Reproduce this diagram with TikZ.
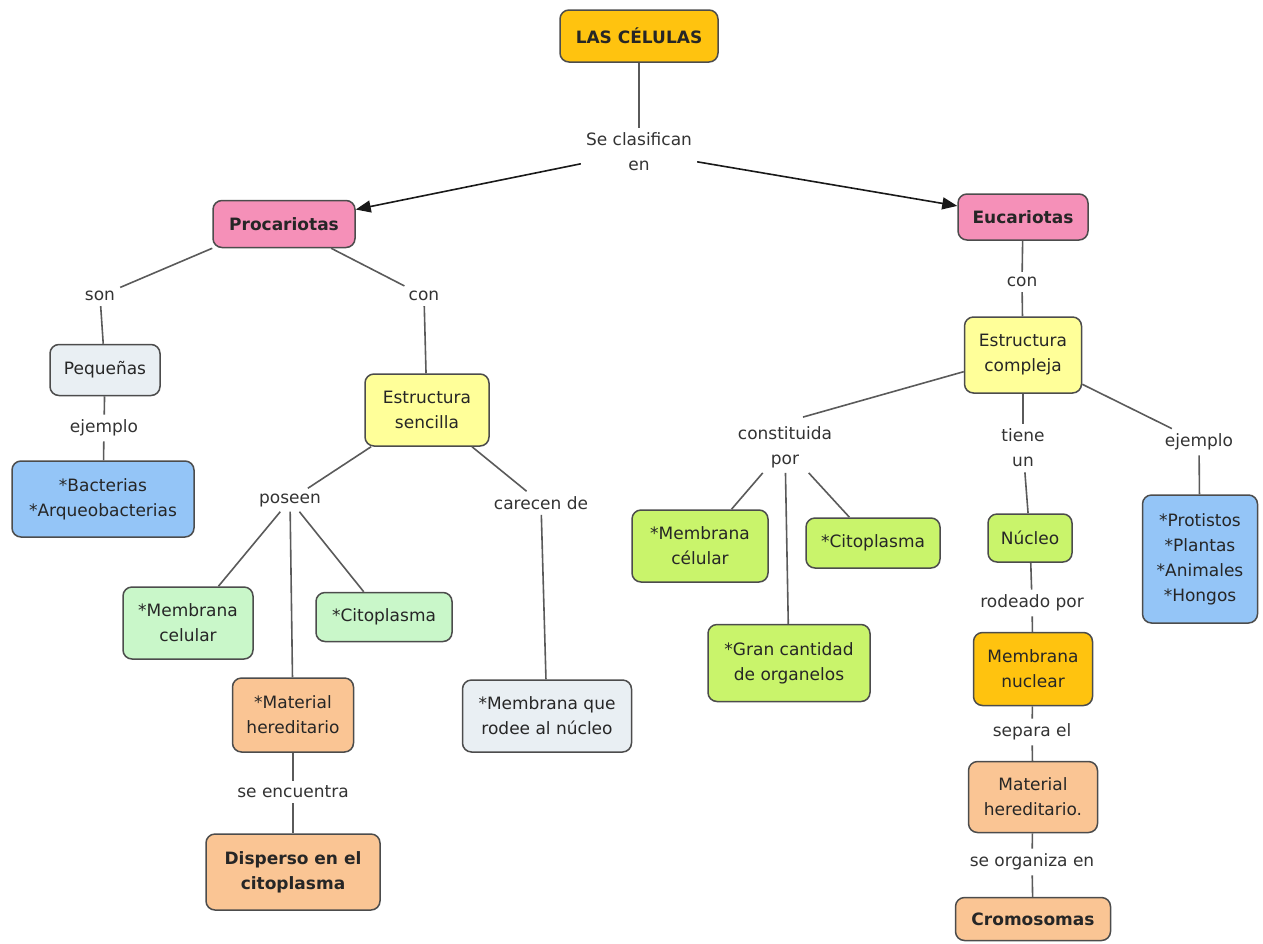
\documentclass[tikz,border=0pt]{standalone}
\usepackage{fontspec}
\setmainfont{DejaVu Sans}
\usetikzlibrary{arrows.meta}
\definecolor{cgold}{HTML}{FFC30F}
\definecolor{cpink}{HTML}{F590B8}
\definecolor{cgrey}{HTML}{E9EFF3}
\definecolor{cblue}{HTML}{94C5F7}
\definecolor{cyel}{HTML}{FFFF99}
\definecolor{cmint}{HTML}{C9F7C9}
\definecolor{clime}{HTML}{C9F46B}
\definecolor{corange}{HTML}{FAC594}
\definecolor{cline}{HTML}{5A5A5A}
\tikzset{
  concept/.style={draw=black!70, line width=1.5pt, rounded corners=9pt, align=center,
    font=\fontsize{17}{25}\selectfont, text=black!85, inner sep=2pt},
  bconcept/.style={concept, font=\fontsize{17}{25}\selectfont\bfseries},
  linklabel/.style={align=center, font=\fontsize{17}{25}\selectfont, text=black!80, inner sep=5pt},
  conn/.style={draw=cline, line width=1.6pt},
  arr/.style={draw=black!90, line width=1.6pt, -{Triangle[length=15pt,width=12pt]}},
}
\begin{document}
\begin{tikzpicture}[x=1pt,y=-1pt]
\useasboundingbox (0,0) rectangle (1263,943);
% concepts
\node[bconcept, fill=cgold, minimum width=158, minimum height=52] (lascel) at (639,36) {LAS CÉLULAS};
\node[bconcept, fill=cpink, minimum width=142, minimum height=47] (proc) at (284,224) {Procariotas};
\node[bconcept, fill=cpink, minimum width=130, minimum height=46] (euca) at (1023,217) {Eucariotas};
\node[concept, fill=cgrey, minimum width=110, minimum height=51] (peq) at (105,370) {Pequeñas};
\node[concept, fill=cblue, minimum width=182, minimum height=76] (bact) at (103,499) {*Bacterias\\*Arqueobacterias};
\node[concept, fill=cyel, minimum width=124, minimum height=72] (esen) at (427,410) {Estructura\\sencilla};
\node[concept, fill=cgrey, minimum width=169, minimum height=72] (memrod) at (547,716) {*Membrana que\\rodee al núcleo};
\node[concept, fill=cmint, minimum width=130, minimum height=72] (memcelL) at (188,623) {*Membrana\\celular};
\node[concept, fill=cmint, minimum width=136, minimum height=49] (citL) at (384,617) {*Citoplasma};
\node[concept, fill=corange, minimum width=121, minimum height=74] (matL) at (293,715) {*Material\\hereditario};
\node[bconcept, fill=corange, minimum width=174, minimum height=76] (disp) at (293,872) {Disperso en el\\citoplasma};
\node[concept, fill=cyel, minimum width=117, minimum height=76] (ecomp) at (1023,355) {Estructura\\compleja};
\node[concept, fill=cblue, minimum width=115, minimum height=128] (prot) at (1200,559) {*Protistos\\*Plantas\\*Animales\\*Hongos};
\node[concept, fill=clime, minimum width=136, minimum height=72] (memcelR) at (700,546) {*Membrana\\célular};
\node[concept, fill=clime, minimum width=134, minimum height=50] (citR) at (873,543) {*Citoplasma};
\node[concept, fill=clime, minimum width=162, minimum height=77] (gran) at (789,663) {*Gran cantidad\\de organelos};
\node[concept, fill=clime, minimum width=84, minimum height=48] (nuc) at (1030,538) {Núcleo};
\node[concept, fill=cgold, minimum width=119, minimum height=73] (memnuc) at (1033,669) {Membrana\\nuclear};
\node[concept, fill=corange, minimum width=129, minimum height=71] (matR) at (1033,797) {Material\\hereditario.};
\node[bconcept, fill=corange, minimum width=155, minimum height=43] (crom) at (1033,919) {Cromosomas};
% linking phrases
\node[linklabel] (clas) at (639,152) {Se clasifican\\en};
\node[linklabel] (son) at (100,296) {son};
\node[linklabel] (conL) at (424,296) {con};
\node[linklabel] (ejL) at (104,428) {ejemplo};
\node[linklabel] (poseen) at (290,500) {poseen};
\node[linklabel] (carecen) at (541,503) {carecen de};
\node[linklabel] (seenc) at (293,792) {se encuentra};
\node[linklabel] (conR) at (1022,282) {con};
\node[linklabel] (constit) at (785,447) {constituida\\por};
\node[linklabel] (tiene) at (1023,448) {tiene\\un};
\node[linklabel] (ejR) at (1199,442) {ejemplo};
\node[linklabel] (rodeado) at (1032,603) {rodeado por};
\node[linklabel] (separa) at (1032,732) {separa el};
\node[linklabel] (seorg) at (1032,862) {se organiza en};
% connectors
\draw[conn] (lascel) -- (clas);
\draw[arr] (clas) -- (proc);
\draw[arr] (clas) -- (euca);
\draw[conn] (proc.south west) -- (son);
\draw[conn] (son) -- (peq);
\draw[conn] (peq) -- (ejL);
\draw[conn] (ejL) -- (bact);
\draw[conn] (proc) -- (conL);
\draw[conn] (conL) -- (esen);
\draw[conn] (esen) -- (poseen);
\draw[conn] (esen) -- (carecen);
\draw[conn] (carecen) -- (memrod);
\draw[conn] (poseen) -- (memcelL);
\draw[conn] (poseen) -- (citL);
\draw[conn] (poseen) -- (matL);
\draw[conn] (matL) -- (seenc);
\draw[conn] (seenc) -- (disp);
\draw[conn] (euca) -- (conR);
\draw[conn] (conR) -- (ecomp);
\draw[conn] (ecomp) -- ([xshift=18pt,yshift=4pt]constit.north);
\draw[conn] (ecomp) -- (tiene);
\draw[conn] (ecomp) -- (ejR);
\draw[conn] (ejR) -- (prot);
\draw[conn] (constit) -- (memcelR);
\draw[conn] (constit) -- (citR);
\draw[conn] (constit) -- (gran);
\draw[conn] (tiene) -- (nuc);
\draw[conn] (nuc) -- (rodeado);
\draw[conn] (rodeado) -- (memnuc);
\draw[conn] (memnuc) -- (separa);
\draw[conn] (separa) -- (matR);
\draw[conn] (matR) -- (seorg);
\draw[conn] (seorg) -- (crom);
\end{tikzpicture}
\end{document}
